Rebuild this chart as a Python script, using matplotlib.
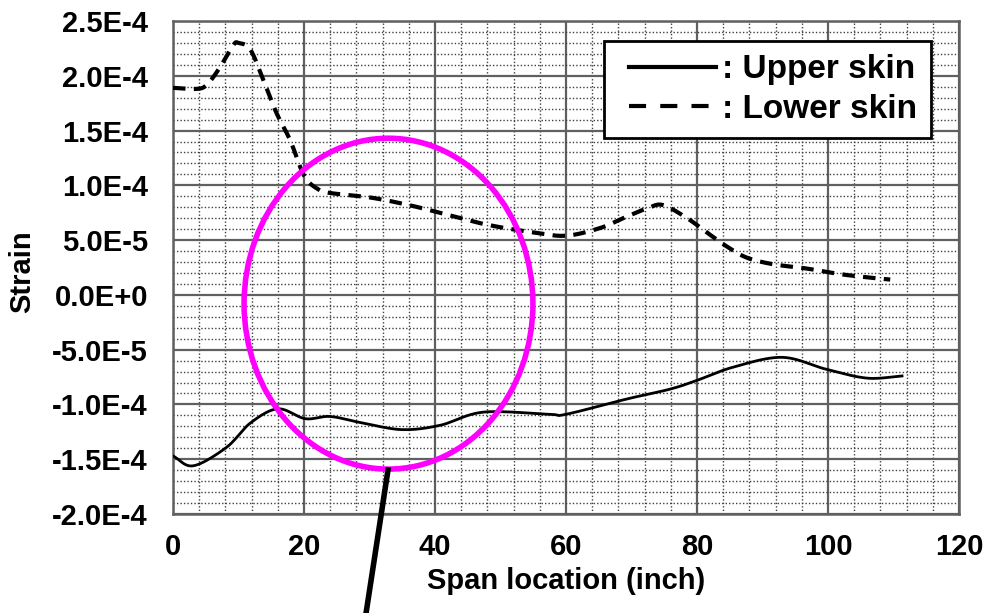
import numpy as np
import matplotlib
matplotlib.use("Agg")
import matplotlib.pyplot as plt
from matplotlib.patches import Ellipse
from matplotlib.lines import Line2D
from matplotlib.legend_handler import HandlerLine2D
from matplotlib.ticker import MultipleLocator, FuncFormatter

plt.rcParams['font.family'] = ['Liberation Sans', 'DejaVu Sans']
plt.rcParams['font.weight'] = 'bold'

# Upper skin strain along the span (solid)
upper_x = [0, 3.1, 8.2, 11.8, 16, 20.2, 24, 29, 35, 40.8, 47.4, 57.5, 60,
           69.3, 75.9, 80, 85.5, 93, 99.8, 106, 111.3]
upper_y = [-1.47e-4, -1.56e-4, -1.39e-4, -1.17e-4, -1.04e-4, -1.13e-4, -1.11e-4,
           -1.17e-4, -1.23e-4, -1.19e-4, -1.07e-4, -1.09e-4, -1.09e-4,
           -0.95e-4, -0.86e-4, -0.78e-4, -0.66e-4, -0.57e-4, -0.68e-4, -0.76e-4, -0.74e-4]

# Lower skin strain along the span (dashed)
lower_x = [0, 3.6, 5.2, 7.2, 9.2, 10, 11.8, 13.8, 15.8, 17.9, 20, 22, 24, 30, 36,
           42, 48, 55, 60, 65.2, 68.7, 72.4, 74.8, 78.5, 81.5, 84.6, 87.6, 91.6,
           96.8, 101.8, 106, 109.5]
lower_y = [1.89e-4, 1.88e-4, 1.92e-4, 2.08e-4, 2.28e-4, 2.30e-4, 2.24e-4, 1.96e-4,
           1.66e-4, 1.41e-4, 1.09e-4, 0.97e-4, 0.93e-4, 0.89e-4, 0.82e-4, 0.73e-4,
           0.64e-4, 0.57e-4, 0.54e-4, 0.61e-4, 0.70e-4, 0.79e-4, 0.82e-4, 0.70e-4,
           0.57e-4, 0.44e-4, 0.34e-4, 0.28e-4, 0.24e-4, 0.19e-4, 0.16e-4, 0.14e-4]


def smooth(xs, ys, n=12):
    # Catmull-Rom through the read points, like Excel's smoothed lines
    xs = np.asarray(xs, float)
    ys = np.asarray(ys, float)
    px = np.concatenate([[2 * xs[0] - xs[1]], xs, [2 * xs[-1] - xs[-2]]])
    py = np.concatenate([[2 * ys[0] - ys[1]], ys, [2 * ys[-1] - ys[-2]]])
    ox, oy = [], []
    t = np.linspace(0, 1, n, endpoint=False)
    for i in range(1, len(px) - 2):
        for p, o in ((px, ox), (py, oy)):
            p0, p1, p2, p3 = p[i - 1], p[i], p[i + 1], p[i + 2]
            o.extend(0.5 * (2 * p1 + (-p0 + p2) * t + (2 * p0 - 5 * p1 + 4 * p2 - p3) * t ** 2
                            + (-p0 + 3 * p1 - 3 * p2 + p3) * t ** 3))
    ox.append(xs[-1])
    oy.append(ys[-1])
    return np.array(ox), np.array(oy)


def sci(v, pos):
    if abs(v) < 1e-12:
        return "0.0E+0"
    e = int(np.floor(np.log10(abs(v)) + 1e-9))
    m = v / 10 ** e
    return f"{m:.1f}E{'+' if e >= 0 else '-'}{abs(e)}"


fs = 21
fig = plt.figure(figsize=(9.87, 6.13), dpi=100)
ax = fig.add_axes([173 / 987, 1 - 514 / 613, (959 - 173) / 987, (514 - 21) / 613])

ux, uy = smooth(upper_x, upper_y)
lx, ly = smooth(lower_x, lower_y)
ax.plot(ux, uy, color='black', lw=2.0, zorder=3)
ax.plot(lx, ly, color='black', lw=3.0, dashes=(3, 2), zorder=3)

ax.set_xlim(0, 120)
ax.set_ylim(-2.0e-4, 2.5e-4)
ax.xaxis.set_major_locator(MultipleLocator(20))
ax.xaxis.set_minor_locator(MultipleLocator(4))
ax.yaxis.set_major_locator(MultipleLocator(5e-5))
ax.yaxis.set_minor_locator(MultipleLocator(1e-5))
ax.yaxis.set_major_formatter(FuncFormatter(sci))
ax.grid(which='major', color='#606060', lw=1.6, ls='-', zorder=1)
ax.grid(which='minor', color='#404040', lw=1.0, ls=(0, (1, 1.5)), zorder=1)
ax.set_axisbelow(True)
ax.tick_params(which='both', length=0, labelsize=fs)
ax.tick_params(axis='x', pad=14)
ax.tick_params(axis='y', pad=18)
for s in ax.spines.values():
    s.set_color('#606060')
    s.set_linewidth(1.8)

ax.set_xlabel("Span location (inch)", fontsize=fs, fontweight='bold', labelpad=4)
fig.text(22 / 987, 1 - 272 / 613, "Strain", rotation=90, fontsize=fs,
         fontweight='bold', ha='center', va='center')

h_upper = Line2D([], [], color='black', lw=3.0)
h_lower = Line2D([], [], color='black', lw=3.0, dashes=(4.1, 3.4))
leg = ax.legend([h_upper, h_lower], [": Upper skin", ": Lower skin"], loc='upper left',
                bbox_to_anchor=((604 - 173) / 786, 1 - (41 - 21) / 493),
                fontsize=24, frameon=True, fancybox=False, framealpha=1,
                edgecolor='black', handlelength=2.95, handletextpad=0.2,
                borderpad=0.4, labelspacing=0.25, borderaxespad=0,
                handler_map={Line2D: HandlerLine2D(xpad=0.36)})
leg.get_frame().set_linewidth(2.0)
leg.set_zorder(5)

# magenta highlight ellipse and pointer
ax.add_patch(Ellipse((32.9, -0.8e-5), 44.1, 3.02e-4, fill=False,
                     edgecolor='#ff00ff', lw=4, zorder=4))
fig.add_artist(Line2D([388 / 987, 365 / 987], [1 - 470 / 613, 1 - 620 / 613],
                      color='black', lw=4))

fig.savefig("out.png", dpi=100)
